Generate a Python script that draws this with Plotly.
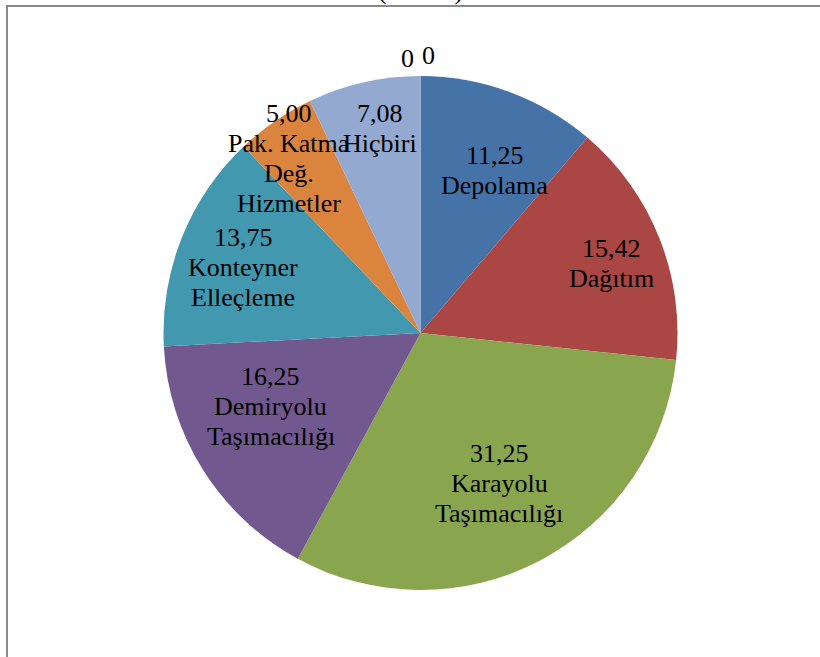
import math
import plotly.graph_objects as go

# Survey shares (%) per logistics service, clockwise from 12 o'clock
CATEGORIES = ["Depolama", "Dağıtım", "Karayolu Taşımacılığı", "Demiryolu Taşımacılığı",
              "Konteyner Elleçleme", "Pak. Katma Değ. Hizmetler", "Hiçbiri", "", ""]
VALUES = [11.25, 15.42, 31.25, 16.25, 13.75, 5.00, 7.08, 0, 0]
LABEL_LINES = [["Depolama"], ["Dağıtım"], ["Karayolu", "Taşımacılığı"],
               ["Demiryolu", "Taşımacılığı"], ["Konteyner", "Elleçleme"],
               ["Pak. Katma", "Değ.", "Hizmetler"], ["Hiçbiri"], [], []]
COLORS = ["#4572A7", "#AA4643", "#89A54E", "#71588F", "#4198AF", "#DB843D", "#93A9CF",
          "#4572A7", "#AA4643"]

# Label placement: radius as a fraction of the pie radius, small angular nudge (deg)
LABEL_RADIUS = [0.696, 0.79, 0.66, 0.65, 0.735, 0.85, 0.81, 1.071, 1.080]
LABEL_NUDGE = [4.3, 1.8, 0.0, 6.0, -1.6, -2.4, 1.4, -2.8, 1.65]

W, H = 820, 657
CX, CY, R = 420.5, 333.0, 257.0
LINE_GAP = 30
FONT = dict(family="Liberation Serif", size=26, color="black")


def fmt(v):
    return f"{v:.2f}".replace(".", ",") if v else "0"


fig = go.Figure(go.Pie(
    labels=[c or f"_{i}" for i, c in enumerate(CATEGORIES)],
    values=VALUES,
    sort=False,
    direction="clockwise",
    rotation=0,
    textinfo="none",
    hoverinfo="label+value",
    marker=dict(colors=COLORS, line=dict(width=0)),
    domain=dict(x=[(CX - R) / W, (CX + R) / W], y=[1 - (CY + R) / H, 1 - (CY - R) / H]),
    showlegend=False,
))

total = sum(VALUES)
annotations = []
cum = 0.0
for i, v in enumerate(VALUES):
    mid = (cum + v / 2) / total * 360 + LABEL_NUDGE[i]
    cum += v
    px = CX + LABEL_RADIUS[i] * R * math.sin(math.radians(mid))
    py = CY - LABEL_RADIUS[i] * R * math.cos(math.radians(mid))
    lines = [fmt(v)] + LABEL_LINES[i]
    n = len(lines)
    for k, txt in enumerate(lines):
        ly = py + (k - (n - 1) / 2) * LINE_GAP
        annotations.append(dict(
            x=px / W, y=1 - ly / H, xref="paper", yref="paper",
            text=txt, showarrow=False, xanchor="center", yanchor="middle",
            font=FONT,
        ))

# Chart title, mostly above the visible area
annotations.append(dict(
    x=CX / W, y=1 + 9 / H, xref="paper", yref="paper", text="(Yüzde)",
    showarrow=False, xanchor="center", yanchor="middle", font=FONT,
))

fig.update_layout(
    width=W, height=H,
    margin=dict(l=0, r=0, t=0, b=0),
    paper_bgcolor="white",
    plot_bgcolor="white",
    font=dict(family="Liberation Serif"),
    annotations=annotations,
    shapes=[dict(type="rect", xref="paper", yref="paper",
                 x0=7 / W, x1=1.02, y0=-0.02, y1=1 - 6 / H,
                 line=dict(color="#898989", width=2))],
)

fig.write_html("out.html")
